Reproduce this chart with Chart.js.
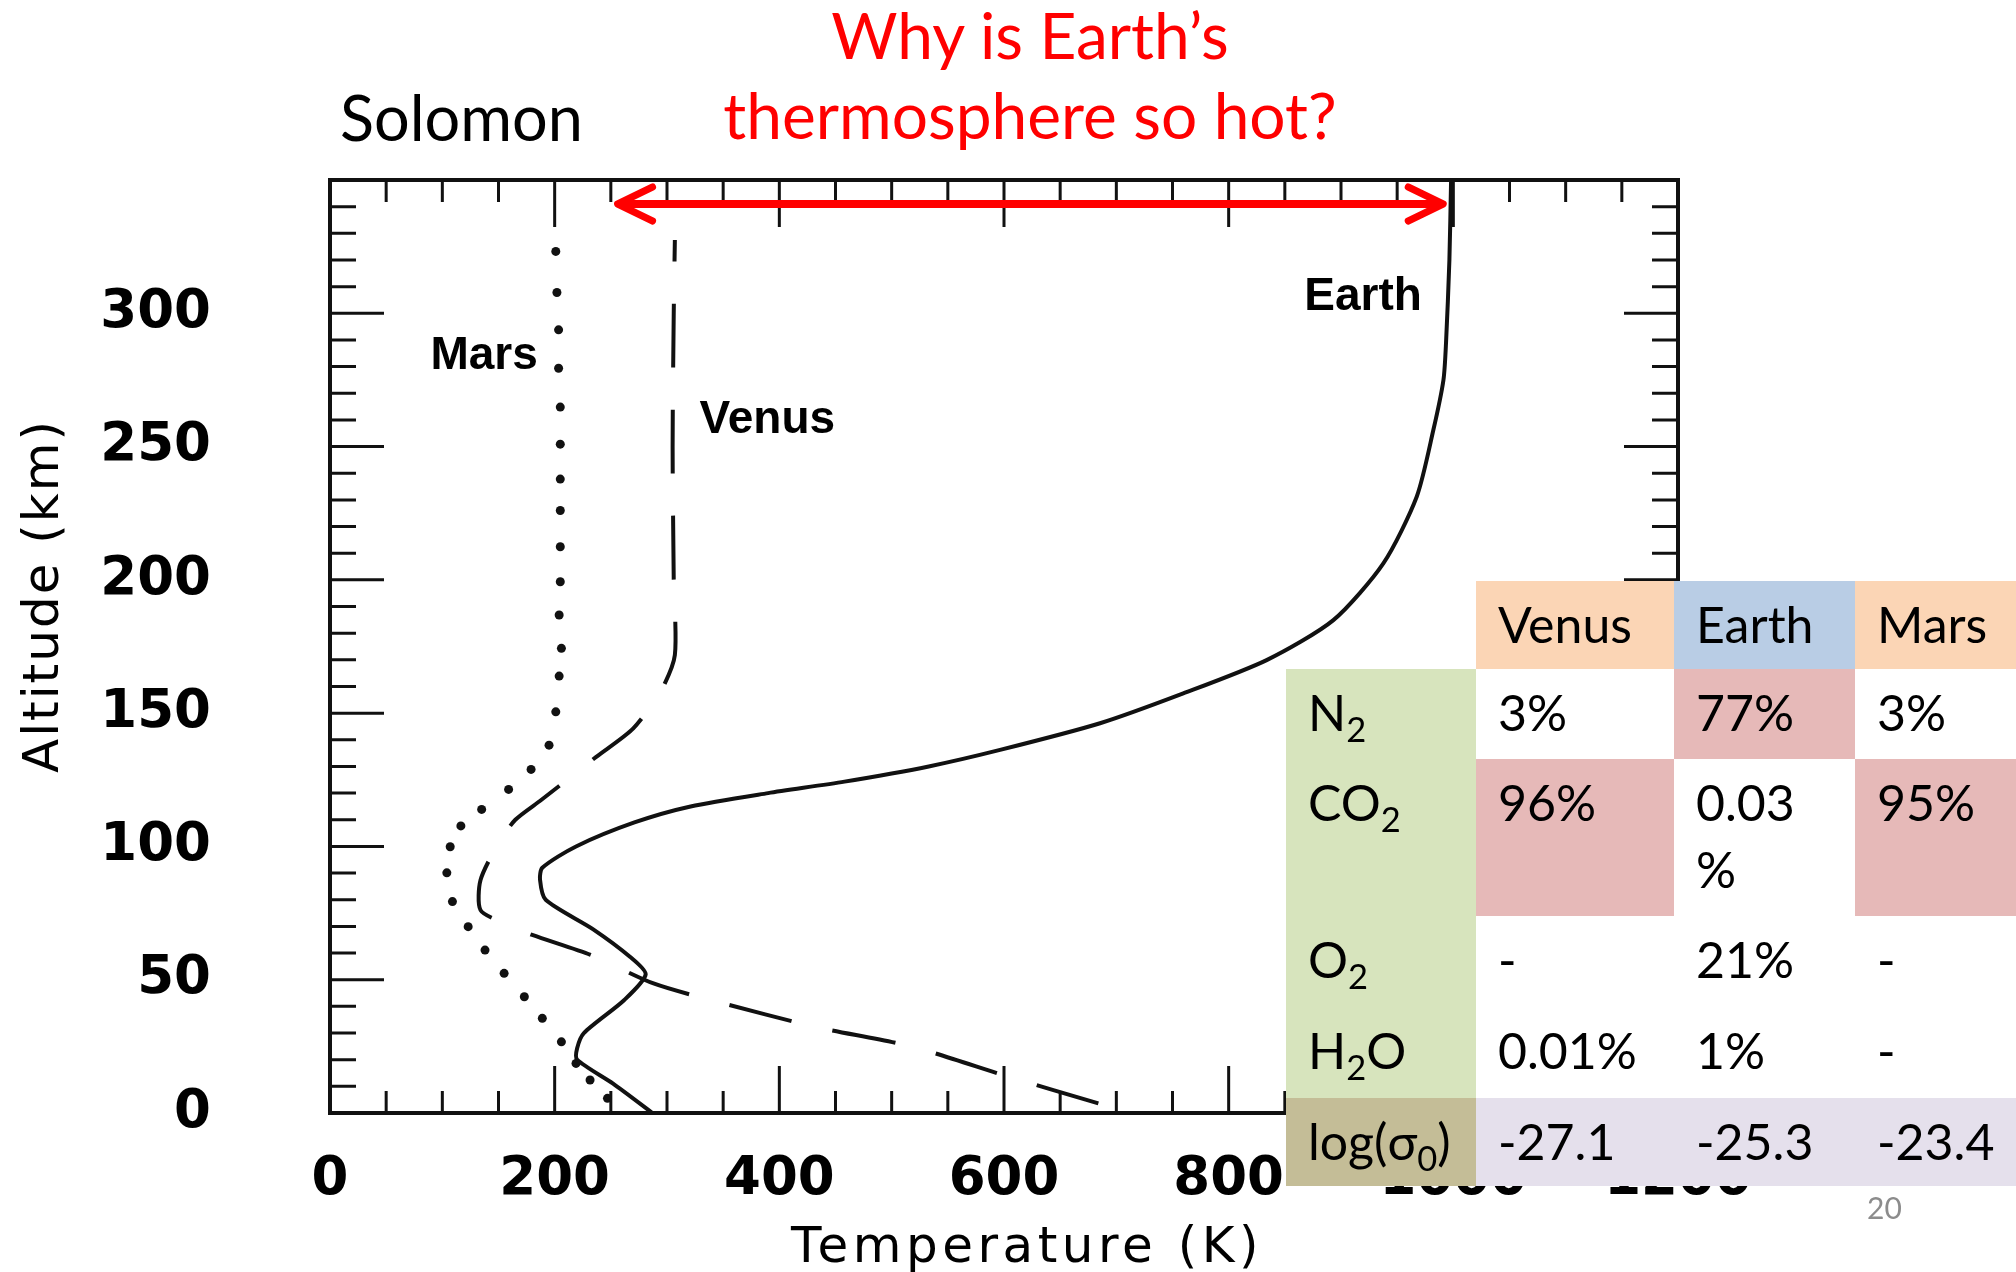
<!DOCTYPE html>
<html>
<head>
<meta charset="utf-8">
<script src="https://cdn.jsdelivr.net/npm/chart.js@4.4.0/dist/chart.umd.min.js"></script>
<style>
  html, body { margin: 0; padding: 0; background: #fff; }
  #slide { position: relative; width: 2016px; height: 1272px; overflow: hidden; }
  #profile { position: absolute; left: 0; top: 0; }
  .note { position: absolute; font-family: Lato, 'Noto Sans', sans-serif; white-space: nowrap; }
  #source { left: 340px; top: 85px; font-size: 63px; line-height: 1; color: #000; }
  #question { left: 630px; width: 800px; top: -5px; font-size: 64px; line-height: 80px; color: #ff0000; text-align: center; }
  #pageNo { left: 1867px; top: 1192px; font-size: 30px; line-height: 1; color: #8c8c8c; }
  #gases { position: absolute; left: 1286px; top: 581px; border-collapse: collapse; table-layout: fixed;
           font-family: Lato, 'Noto Sans', sans-serif; font-size: 50px; color: #000; }
  #gases td { padding: 10px 0 0 22px; vertical-align: top; line-height: 67px; white-space: nowrap; }
  #gases sub { font-size: 0.69em; line-height: 0; vertical-align: -11px; }
  .peach { background: #fbd5b5; }
  .blue  { background: #b9cde5; }
  .green { background: #d7e4bd; }
  .pink  { background: #e6b9b8; }
  .tan   { background: #c4bd97; }
  .lilac { background: #e5e0ec; }
  .plain { background: #fff; }
</style>
</head>
<body>
<div id="slide">
  <canvas id="profile" width="2016" height="1272"></canvas>
  <div id="source" class="note">Solomon</div>
  <div id="question" class="note">Why is Earth’s<br>thermosphere so hot?</div>
  <table id="gases">
    <colgroup><col style="width:190px"><col style="width:198px"><col style="width:181px"><col style="width:161px"></colgroup>
    <tr style="height:88px"><td></td><td class="peach">Venus</td><td class="blue">Earth</td><td class="peach">Mars</td></tr>
    <tr style="height:90px"><td class="green">N<sub>2</sub></td><td class="plain">3%</td><td class="pink">77%</td><td class="plain">3%</td></tr>
    <tr style="height:157px"><td class="green">CO<sub>2</sub></td><td class="pink">96%</td><td class="plain">0.03<br>%</td><td class="pink">95%</td></tr>
    <tr style="height:91px"><td class="green">O<sub>2</sub></td><td class="plain">-</td><td class="plain">21%</td><td class="plain">-</td></tr>
    <tr style="height:91px"><td class="green">H<sub>2</sub>O</td><td class="plain">0.01%</td><td class="plain">1%</td><td class="plain">-</td></tr>
    <tr style="height:88px"><td class="tan">log(σ<sub>0</sub>)</td><td class="lilac">-27.1</td><td class="lilac">-25.3</td><td class="lilac">-23.4</td></tr>
  </table>
  <div id="pageNo" class="note">20</div>
</div>

<script>
// altitude (km) and temperature (K)
const earthAlt  = [0, 11, 20, 24.3, 30, 42.4, 52, 58.6, 69, 80, 87.4, 92, 100, 109, 115, 120, 124.3, 130, 136.2, 146.2, 157.4, 169.9, 184.9, 206.2, 231.2, 256.2, 275, 289, 320, 350];
const earthTemp = [287, 252, 220, 220, 226, 262, 281, 267, 234, 192, 187, 189, 219, 271, 321, 390, 458, 533, 596.5, 685.5, 759.6, 833.8, 893.2, 937.7, 967.4, 982.2, 991.2, 993.5, 996.5, 998];

const venusAlt  = [3.6, 13.6, 24.9, 32.4, 41.8, 48.6, 59.3, 66.8, 71.2, 76.1, 87.4, 101.2, 110, 117.4, 133.6, 144.3, 158.7, 171.8, 200, 250, 300, 327.5];
const venusTemp = [684, 604, 518, 431, 344, 288, 232, 180, 155, 134, 134, 150, 165, 188, 237, 270, 295, 307, 306, 305, 306, 307];

// Mars is plotted as separate dots
const marsAlt  = [5.5, 12.4, 18.6, 26.7, 35.5, 43.6, 52.4, 61.1, 69.9, 79.3, 90.1, 99.9, 107.7, 113.9, 121.4, 128.9, 138, 150.5, 163.9, 174.3, 186.8, 199.3, 212.4, 226, 237.8, 250.9, 264.8, 279.4, 293.8, 307.8, 323.2];
const marsTemp = [247, 231.5, 219, 206, 189, 173, 155, 138, 123, 109, 104, 107, 116.5, 135, 159, 179, 195, 201, 204, 206, 204, 205, 205, 205, 205, 205, 205, 203.5, 203.5, 202, 201];

const tempTicks = [0, 200, 400, 600, 800, 1000, 1200];
const altTicks = [0, 50, 100, 150, 200, 250, 300];

// red arrow spanning the exospheric temperatures (K) at ~341 km
const arrowFrom = 256;
const arrowTo = 991;
const arrowAlt = 341;

const toPoints = (alt, temp) => alt.map((a, i) => ({x: temp[i], y: a}));

const ink = '#111';

// boxed frame with inward ticks on all four sides
const framePlugin = {
    id: 'frame',
    afterDatasetsDraw(chart) {
        const {ctx, chartArea: a, scales: {x, y}} = chart;
        ctx.save();
        ctx.strokeStyle = ink;
        ctx.lineWidth = 3;
        ctx.beginPath();
        for (let t = 0; t <= 1200; t += 50) {
            const px = x.getPixelForValue(t);
            const len = t % 200 === 0 ? 47 : 22;
            ctx.moveTo(px, a.bottom); ctx.lineTo(px, a.bottom - len);
            ctx.moveTo(px, a.top); ctx.lineTo(px, a.top + len);
        }
        for (let h = 0; h <= 350; h += 10) {
            const py = y.getPixelForValue(h);
            const len = h % 50 === 0 ? 54 : 26;
            ctx.moveTo(a.left, py); ctx.lineTo(a.left + len, py);
            ctx.moveTo(a.right, py); ctx.lineTo(a.right - len, py);
        }
        ctx.stroke();
        ctx.lineWidth = 4;
        ctx.strokeRect(a.left, a.top, a.right - a.left, a.bottom - a.top);
        ctx.restore();
    }
};

// curve names, axis titles (spaced out like the scan) and the red arrow
const notesPlugin = {
    id: 'notes',
    afterDraw(chart) {
        const {ctx, scales: {x, y}} = chart;
        ctx.save();
        ctx.fillStyle = '#000';
        ctx.textBaseline = 'middle';
        ctx.font = 'bold 46px "Liberation Sans", Arial, sans-serif';
        ctx.textAlign = 'right';
        ctx.fillText('Mars', x.getPixelForValue(185), y.getPixelForValue(284));
        ctx.fillText('Earth', x.getPixelForValue(972), y.getPixelForValue(306));
        ctx.textAlign = 'left';
        ctx.fillText('Venus', x.getPixelForValue(329), y.getPixelForValue(260));

        ctx.font = '50px "DejaVu Sans", sans-serif';
        ctx.textAlign = 'center';
        ctx.letterSpacing = '4.5px';
        ctx.textBaseline = 'alphabetic';
        ctx.fillText('Temperature (K)', 1027, 1262);

        ctx.save();
        ctx.letterSpacing = '2px';
        ctx.textBaseline = 'middle';
        ctx.translate(45, 596);
        ctx.rotate(-Math.PI / 2);
        ctx.fillText('Altitude (km)', 0, 0);
        ctx.restore();
        ctx.letterSpacing = '0px';

        const x1 = x.getPixelForValue(arrowFrom);
        const x2 = x.getPixelForValue(arrowTo);
        const ay = y.getPixelForValue(arrowAlt);
        ctx.strokeStyle = '#ff0000';
        ctx.lineCap = 'round';
        ctx.lineJoin = 'round';
        ctx.lineWidth = 8;
        ctx.beginPath();
        ctx.moveTo(x1 + 3, ay); ctx.lineTo(x2 - 3, ay);
        ctx.stroke();
        ctx.lineWidth = 7;
        ctx.beginPath();
        ctx.moveTo(x1 + 35, ay - 17); ctx.lineTo(x1, ay); ctx.lineTo(x1 + 35, ay + 17);
        ctx.moveTo(x2 - 35, ay - 17); ctx.lineTo(x2, ay); ctx.lineTo(x2 - 35, ay + 17);
        ctx.stroke();
        ctx.restore();
    }
};

const tickFont = {family: 'DejaVu Sans', size: 53, weight: 'bold'};

new Chart(document.getElementById('profile').getContext('2d'), {
    type: 'scatter',
    data: {
        datasets: [
            {
                label: 'Earth',
                data: toPoints(earthAlt, earthTemp),
                showLine: true,
                borderColor: ink,
                borderWidth: 4,
                pointRadius: 0,
                tension: 0.25,
            },
            {
                label: 'Venus',
                data: toPoints(venusAlt, venusTemp),
                showLine: true,
                borderColor: ink,
                borderWidth: 4,
                borderDash: [64, 42],
                pointRadius: 0,
                tension: 0.25,
            },
            {
                label: 'Mars',
                data: toPoints(marsAlt, marsTemp),
                showLine: false,
                pointRadius: 4.5,
                pointBorderWidth: 0,
                pointBackgroundColor: ink,
            },
        ],
    },
    options: {
        responsive: false,
        animation: false,
        layout: {padding: {top: 180, right: 338, bottom: 0, left: 0}},
        plugins: {
            legend: {display: false},
            tooltip: {enabled: false},
        },
        scales: {
            x: {
                type: 'linear',
                position: 'bottom',
                min: 0,
                max: 1200,
                afterFit: (scale) => { scale.height = 159; },
                afterBuildTicks: (scale) => { scale.ticks = tempTicks.map(v => ({value: v})); },
                grid: {display: false, drawTicks: false},
                border: {display: false},
                ticks: {color: '#000', font: tickFont, padding: 35, maxRotation: 0, autoSkip: false,
                        callback: (v) => String(v)},
            },
            y: {
                type: 'linear',
                position: 'left',
                min: 0,
                max: 350,
                afterFit: (scale) => { scale.width = 330; },
                afterBuildTicks: (scale) => { scale.ticks = altTicks.map(v => ({value: v})); },
                grid: {display: false, drawTicks: false},
                border: {display: false},
                ticks: {color: '#000', font: tickFont, padding: 119, autoSkip: false,
                        callback: (v) => String(v)},
            },
        },
    },
    plugins: [framePlugin, notesPlugin],
});
</script>
</body>
</html>
